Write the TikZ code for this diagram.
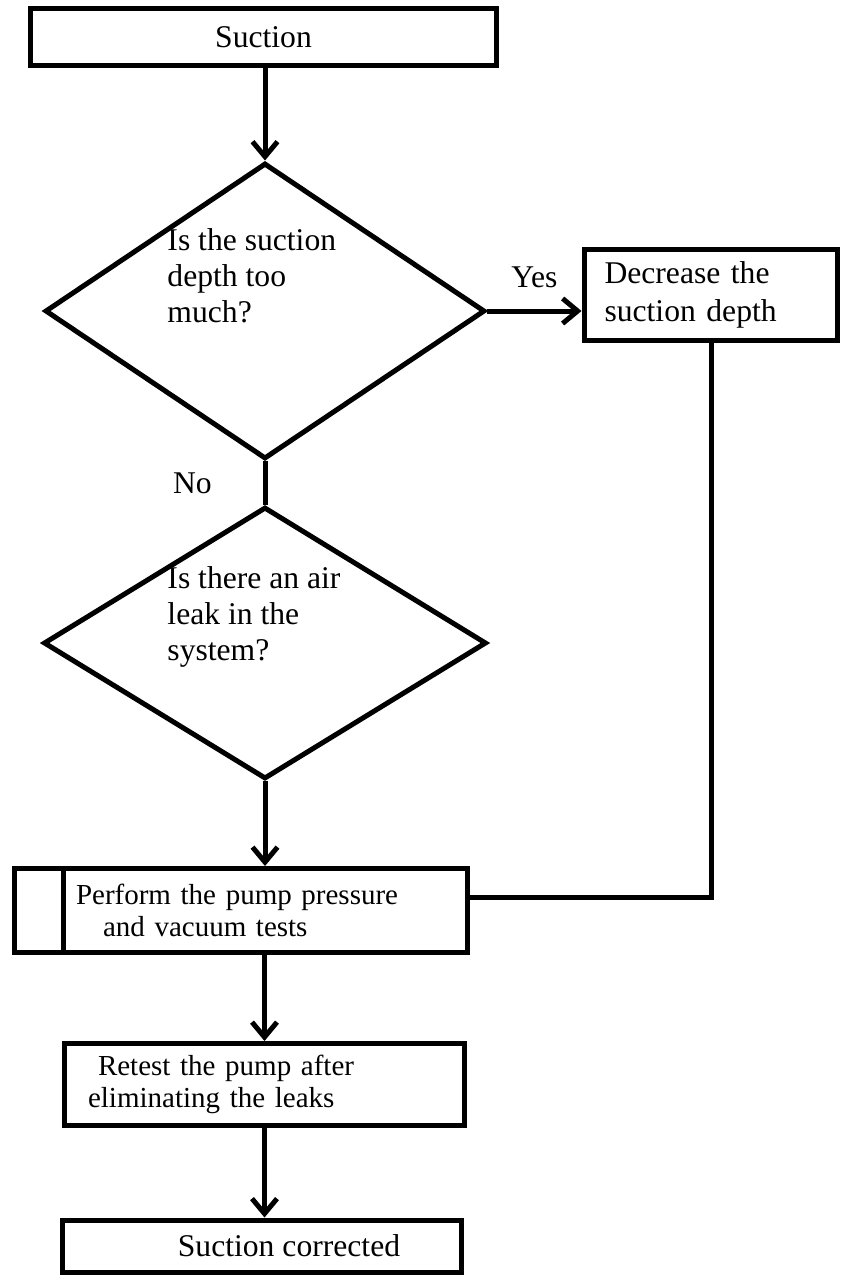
\documentclass[tikz,border=0pt]{standalone}
\usepackage{fontspec}
\setmainfont{Liberation Serif}
\usetikzlibrary{arrows.meta,positioning,shapes.geometric}

\begin{document}
\begin{tikzpicture}[x=0.02cm,y=-0.02cm,line width=1mm,
  font=\fontsize{18}{21.5}\selectfont,
  box/.style={draw,rectangle,inner ysep=0pt},
  decision/.style={draw,diamond,inner sep=0pt},
  qtext/.style={anchor=west,align=left,inner sep=0pt,font=\fontsize{18}{20.5}\selectfont},
  arr/.style={-{Straight Barb[length=0.3cm,width=0.5cm]}}]
\useasboundingbox (0,0) rectangle (841,1276);
% boxes
\node[box,minimum width=9.32cm,minimum height=1.14cm] (suction) at (263.5,37) {Suction};
\node[box,minimum height=1.82cm,inner xsep=0.41cm,text width=4.26cm,align=left] (decrease) at (711,295)
  {Decrease the\\suction depth};
\node[box,minimum height=1.68cm,inner xsep=1.23cm,text width=6.6cm,align=left,
  font=\fontsize{16.5}{18.5}\selectfont] (perform) at (241,910.5)
  {Perform the pump pressure\\\hspace*{0.54cm}and vacuum tests};
\node[box,minimum height=1.64cm,inner xsep=0.47cm,text width=7.06cm,align=left,
  font=\fontsize{16.5}{18.5}\selectfont] (retest) at (264.5,1084.5)
  {\hspace*{0.2cm}Retest the pump after\\eliminating the leaks};
\node[box,minimum width=7.98cm,minimum height=1.04cm] (corrected) at (262,1246)
  {\hspace*{1.08cm}Suction corrected};
% decisions
\node[decision,minimum width=8.8cm,minimum height=5.92cm] (depth) at (265,311) {};
\node[qtext] (depthtext) at (165,276) {Is the suction\\depth too\\much?};
\node[decision,minimum width=8.86cm,minimum height=5.44cm] (leak) at (265,643) {};
\node[qtext] (leaktext) at (165,617) {Is there an air\\leak in the\\system?};
% predefined process bar
\draw ([xshift=1.02cm]perform.north west) -- ([xshift=1.02cm]perform.south west);
% connectors
\draw[arr] (suction.south -| depth.north) -- (depth.north);
\draw[arr] (depth.east) -- (depth.east -| decrease.west)
  node[midway,above=0.3cm] (yes) {Yes};
\draw (depth.south) -- (leak.north) node[midway,left=0.9cm] (no) {No};
\draw[arr] (leak.south) -- (leak.south |- perform.north);
\draw (decrease.south) |- (perform.east |- 0,897);
\draw[arr] (retest.north |- perform.south) -- (retest.north);
\draw[arr] (retest.south) -- (retest.south |- corrected.north);
\end{tikzpicture}
\end{document}
